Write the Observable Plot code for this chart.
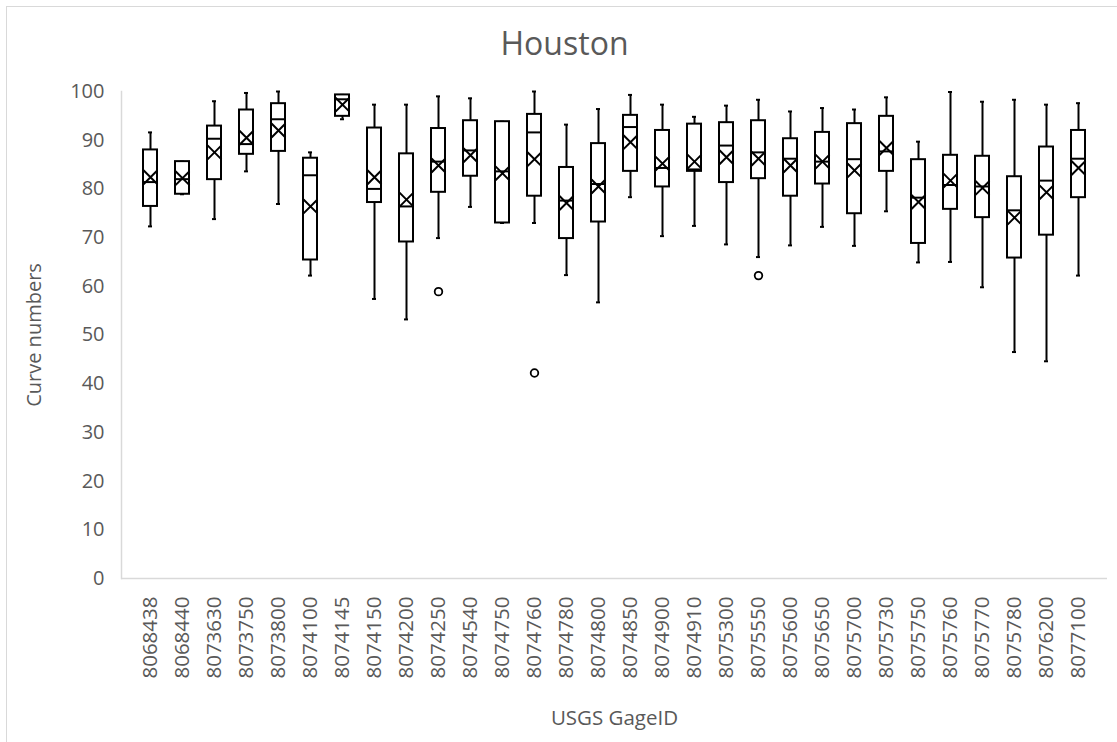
<!DOCTYPE html>
<html><head><meta charset="utf-8">
<script src="https://cdn.jsdelivr.net/npm/d3@7"></script>
<script src="https://cdn.jsdelivr.net/npm/@observablehq/plot@0.6"></script>
<style>
body{margin:0;background:#fff;font-family:"Open Sans",sans-serif;}
#wrap{position:relative;width:1117px;height:742px;overflow:hidden;background:#fff;}
#border{position:absolute;left:6px;top:6px;width:1130px;height:760px;border:1px solid #d9d9d9;box-sizing:border-box;}
#title{position:absolute;left:0;top:21px;width:1117px;padding-left:12px;box-sizing:border-box;text-align:center;font-size:32px;color:#595959;line-height:normal;}
#chart{position:absolute;left:0;top:70px;}
</style></head><body>
<div id="wrap"><div id="border"></div><div id="title">Houston</div><div id="chart"></div></div>
<script>
const gageIds = ["8068438","8068440","8073630","8073750","8073800","8074100","8074145","8074150","8074200","8074250","8074540","8074750","8074760","8074780","8074800","8074850","8074900","8074910","8075300","8075550","8075600","8075650","8075700","8075730","8075750","8075760","8075770","8075780","8076200","8077100"];
const whiskerLow  = [72.3,78.9,73.8,83.6,76.9,62.2,94.3,57.4,53.2,69.9,76.3,73.0,73.0,62.3,56.7,78.3,70.3,72.4,68.6,66.0,68.4,72.2,68.3,75.4,64.9,65.0,59.8,46.5,44.6,62.2];
const quartile1   = [76.4,78.9,81.9,87.1,87.7,65.4,94.9,77.2,69.1,79.3,82.6,73.0,78.5,69.8,73.2,83.6,80.4,83.6,81.3,82.1,78.5,81.0,74.9,83.6,68.8,75.8,74.1,65.8,70.5,78.2];
const medians     = [81.4,82.0,90.3,89.2,94.3,82.8,98.4,80.0,76.4,85.6,87.9,83.6,91.6,77.6,81.0,92.7,84.3,84.0,88.9,87.5,86.2,85.6,86.1,87.7,78.2,80.8,80.5,75.6,81.7,86.2];
const quartile3   = [88.0,85.6,92.9,96.2,97.5,86.3,99.3,92.5,87.2,92.4,94.0,93.8,95.3,84.4,89.3,95.1,92.0,93.3,93.6,94.0,90.3,91.6,93.4,94.9,86.0,86.9,86.7,82.5,88.6,92.0];
const whiskerHigh = [91.6,85.6,98.0,99.7,100.0,87.5,99.3,97.3,97.3,99.0,98.6,93.8,100.0,93.2,96.4,99.3,97.3,94.8,97.1,98.3,95.9,96.6,96.3,98.8,89.7,99.9,97.9,98.3,97.3,97.6];
const means       = [82.4,82.2,87.5,90.5,92.0,76.4,97.3,82.4,77.8,84.8,86.9,83.2,86.1,77.1,80.5,89.6,85.2,85.6,86.5,86.2,84.8,85.6,83.8,88.4,77.3,81.7,80.2,74.1,79.3,84.3];
const outlierIds    = ["8074250","8074760","8075550"];
const outlierValues = [58.9,42.2,62.2];
const yTicks = [0,10,20,30,40,50,60,70,80,90,100];

const rows = gageIds.map((id, i) => ({
  id, lo: whiskerLow[i], q1: quartile1[i], med: medians[i], q3: quartile3[i], hi: whiskerHigh[i], mean: means[i]
}));
const outliers = outlierIds.map((id, i) => ({id, value: outlierValues[i]}));

const chart = Plot.plot({
  width: 1117, height: 672,
  marginTop: 21, marginBottom: 164, marginLeft: 121, marginRight: 10,
  style: {fontFamily: "'Open Sans', sans-serif", fontSize: "20px", color: "#595959", background: "transparent", overflow: "visible"},
  x: {domain: gageIds, paddingInner: 0.55, paddingOuter: 0.275, axis: null},
  y: {domain: [0, 100], axis: null},
  marks: [
    Plot.ruleY([0], {stroke: "#d9d9d9", strokeWidth: 1.5}),
    Plot.frame({anchor: "left", stroke: "#d9d9d9", strokeWidth: 1.5}),
    Plot.axisY(yTicks, {tickSize: 0, tickPadding: 17, fontSize: 20, label: "Curve numbers", labelAnchor: "center", labelOffset: 95, labelArrow: "none"}),
    Plot.axisX({tickSize: 0, tickRotate: -90, tickPadding: 18, fontSize: 20.5, label: "USGS GageID", labelAnchor: "center", labelOffset: 146, labelArrow: "none"}),
    Plot.ruleX(rows, {x: "id", y1: "lo", y2: "hi", stroke: "black", strokeWidth: 2}),
    Plot.tickY(rows, {x: "id", y: "lo", insetLeft: 5, insetRight: 5, stroke: "black", strokeWidth: 2}),
    Plot.tickY(rows, {x: "id", y: "hi", insetLeft: 5, insetRight: 5, stroke: "black", strokeWidth: 2}),
    Plot.barY(rows, {x: "id", y1: "q1", y2: "q3", fill: "white", stroke: "black", strokeWidth: 2}),
    Plot.tickY(rows, {x: "id", y: "med", stroke: "black", strokeWidth: 2}),
    Plot.dot(rows, {x: "id", y: "mean", symbol: "times", r: 6.4, stroke: "black", strokeWidth: 2}),
    Plot.dot(outliers, {x: "id", y: "value", r: 3.8, fill: "white", stroke: "black", strokeWidth: 1.8})
  ]
});
document.getElementById("chart").append(chart);
</script>
</body></html>
